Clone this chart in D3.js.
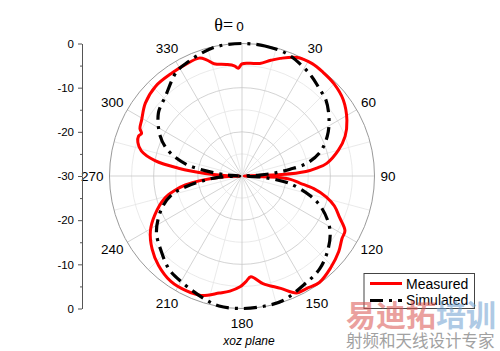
<!DOCTYPE html>
<html><head><meta charset="utf-8">
<script src="https://cdn.jsdelivr.net/npm/d3@7"></script>
<style>body{margin:0;background:#fff}svg{display:block}</style>
</head><body>
<svg id="c" width="500" height="351"></svg>
<script>
// ---- data ----
const measuredAngles = [0,4,9,14,18,25,32,38,45,53,62,69,75,81.5,84,86,88,90,92,94,97,100,104,108,113,118,122,128,136,144,150,155,161,169,175,178,181,186,191,199,206,214,223,231,239,246,254,258,261,264,267,270,272,274,277,280,284,288,291,293,295,299,307,316,326,333,340,343,346,352,356,358];
const measuredDb = [-4.6,-4.4,-4.2,-3.0,-2.0,-0.4,0,-0.2,-0.5,-1.3,-3.1,-5.0,-7.4,-10.6,-13,-15.5,-21,-29.5,-22,-19,-16.8,-13.5,-10.3,-8,-6,-3.6,-3.3,-2.2,-1.1,-0.2,-0.6,-0.8,-3.1,-5.2,-7.1,-6,-4.9,-3.8,-3.0,-1.4,-1.1,-1.2,-2.3,-3.8,-5.8,-8.4,-11.8,-14.5,-17,-21,-25,-29.5,-26,-21.6,-15.5,-10,-6.5,-5.2,-4.9,-5.3,-4.5,-4,-2.6,-1.8,-1.8,-1.7,-1.6,-2.5,-3.8,-4.5,-5,-5.6];
const simulatedAngles = [0,10,20,28,35,41,48,57,65,73,79,82,85,87,90,93,96,99,106,112,121,130,140,151,162,170,180,190,197,210,218,227,237,248,255,259,263,267,270,274,278,282,289,296,307,316,328,335,343,350];
const simulatedDb = [0,-0.1,-0.5,-1.5,-2.5,-3.5,-4.4,-6.5,-8.7,-11.5,-15.1,-19,-22.9,-26,-29.5,-26,-22.5,-19,-14,-10.5,-6.8,-4.5,-2.6,-1.6,-0.3,-0.1,0,-0.1,-0.9,-2.4,-3.2,-5,-6.9,-10.4,-13.5,-16.9,-21,-25,-29.5,-26.5,-22,-17,-12.3,-9.4,-6.3,-5,-2.1,-1.4,-0.6,-0.1];
const angleTicks = [0,30,60,90,120,150,180,210,240,270,300,330];
const radialTicks = [-30,-20,-10,0];
const radialMinor = [-25,-15,-5];
const seriesNames = ["Measured","Simulated"];

// ---- layout ----
const svg = d3.select("#c");
const cx = 242, cy = 176, R = 132.5;
const rScale = d3.scaleLinear().domain([-30,0]).range([0,R]);
const g = svg.append("g").attr("transform",`translate(${cx},${cy})`);
const rad = d => d*Math.PI/180;

// grid: minor circles, spokes
radialMinor.forEach(v => g.append("circle").attr("r", rScale(v)).attr("fill","none").attr("stroke","#e4e4e4").attr("stroke-width",0.8));
d3.range(0,360,15).forEach(a => {
  const major = a % 30 === 0;
  g.append("line").attr("x1",0).attr("y1",0)
    .attr("x2", R*Math.sin(rad(a))).attr("y2", -R*Math.cos(rad(a)))
    .attr("stroke", major ? "#c8c8c8" : "#e4e4e4").attr("stroke-width",0.8);
});
radialTicks.filter(v=>v>-30 && v<0).forEach(v => g.append("circle").attr("r", rScale(v)).attr("fill","none").attr("stroke","#c8c8c8").attr("stroke-width",0.8));
g.append("circle").attr("r", rScale(0)).attr("fill","none").attr("stroke","#9a9a9a").attr("stroke-width",1);

// curves
const line = d3.lineRadial().angle(d=>rad(d[0])).radius(d=>rScale(Math.max(-30,Math.min(0,d[1])))).curve(d3.curveCatmullRomClosed.alpha(0.5));
const meas = measuredAngles.map((a,i)=>[a, measuredDb[i]]);
const sim = simulatedAngles.map((a,i)=>[a, simulatedDb[i]]);
g.append("path").attr("d", line(meas)).attr("fill","none").attr("stroke","#ff0000").attr("stroke-width",3).attr("stroke-linejoin","round");
g.append("path").attr("d", line(sim)).attr("fill","none").attr("stroke","#000").attr("stroke-width",3.2)
  .attr("stroke-dasharray","13,6,3,6");

// angle labels
angleTicks.forEach(a => {
  if (a === 0) return;
  const t = svg.append("text").attr("font-family","Arial, 'Liberation Sans', sans-serif").attr("font-size",13.5)
    .attr("text-anchor","middle").attr("dominant-baseline","central").text(a);
  const w = t.node().getComputedTextLength();
  const rx = R + 6 + w/2, ry = R + 15;
  t.attr("x", cx + rx*Math.sin(rad(a))).attr("y", cy - ry*Math.cos(rad(a)));
});
const th = svg.append("text").attr("x",229).attr("y",30.5).attr("text-anchor","middle");
th.append("tspan").attr("font-family","'Liberation Serif','Times New Roman',serif").attr("font-size",18).text("θ=");
th.append("tspan").attr("font-family","Arial, 'Liberation Sans', sans-serif").attr("font-size",13.5).attr("dx",3).text(angleTicks[0]);

// left axis
const ax = 82;
const yTop = d3.scaleLinear().domain([-30,0]).range([cy, cy-R]);
const yBot = d3.scaleLinear().domain([-30,0]).range([cy, cy+R]);
const axG = svg.append("g").attr("transform",`translate(${ax},0)`);
const fmt = d => String(d);
const styleAxis = sel => {
  sel.select(".domain").attr("stroke","#555");
  sel.selectAll(".tick line").attr("stroke","#555");
  sel.selectAll("text").attr("font-family","Arial, 'Liberation Sans', sans-serif").attr("font-size",11.5).attr("fill","#000");
};
axG.append("g").call(d3.axisLeft(yTop).tickValues(radialTicks).tickFormat(fmt).tickSize(4).tickSizeOuter(0).tickPadding(4)).call(styleAxis);
axG.append("g").call(d3.axisLeft(yBot).tickValues(radialTicks.filter(v=>v>-30)).tickFormat(fmt).tickSize(4).tickSizeOuter(0).tickPadding(4)).call(styleAxis);
axG.append("g").call(d3.axisLeft(yTop).tickValues(radialMinor).tickSize(2).tickFormat("")).call(styleAxis).select(".domain").remove();
axG.append("g").call(d3.axisLeft(yBot).tickValues(radialMinor).tickSize(2).tickFormat("")).call(styleAxis).select(".domain").remove();

// subtitle
svg.append("text").attr("x",249).attr("y",345).attr("text-anchor","middle")
  .attr("font-family","Arial, 'Liberation Sans', sans-serif").attr("font-style","italic").attr("font-size",12).text("xoz plane");

// legend
const lg = svg.append("g");
lg.append("rect").attr("x",364).attr("y",273.5).attr("width",110.5).attr("height",35).attr("fill","#fff").attr("stroke","#444").attr("stroke-width",1);
lg.append("line").attr("x1",370).attr("x2",402).attr("y1",283.5).attr("y2",283.5).attr("stroke","#ff0000").attr("stroke-width",3);
lg.append("line").attr("x1",370).attr("x2",402).attr("y1",300.5).attr("y2",300.5).attr("stroke","#000").attr("stroke-width",3).attr("stroke-dasharray","13,6,3,6");
lg.append("text").attr("x",406).attr("y",288.5).attr("font-family","Arial, 'Liberation Sans', sans-serif").attr("font-size",14).text(seriesNames[0]);
lg.append("text").attr("x",406).attr("y",305).attr("font-family","Arial, 'Liberation Sans', sans-serif").attr("font-size",14).text(seriesNames[1]);

// watermark
const wm = svg.append("text").attr("x",346).attr("y",326).attr("font-family","'Noto Sans CJK SC', sans-serif").attr("font-weight","bold").attr("font-size",30).attr("opacity",0.55);
wm.append("tspan").attr("fill","#d9534f").text("易迪拓");
wm.append("tspan").attr("fill","#6f9fd0").text("培训");
svg.append("text").attr("x",346).attr("y",347).attr("font-family","'Noto Sans CJK SC', sans-serif").attr("font-size",16.5).attr("fill","#8a8a8a").attr("opacity",0.8).text("射频和天线设计专家");
</script>
</body></html>
